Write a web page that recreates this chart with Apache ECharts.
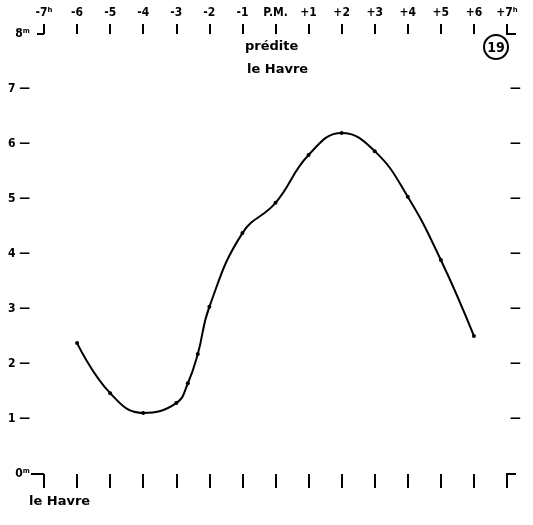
<!DOCTYPE html>
<html>
<head>
<meta charset="utf-8">
<script src="https://cdn.jsdelivr.net/npm/echarts@6/dist/echarts.min.js"></script>
<style>html,body{margin:0;padding:0;background:#fff}#c{width:533px;height:525px}</style>
</head>
<body>
<div id="c"></div>
<script>
// Hours relative to P.M. (predicted high water, Le Havre)
const hours   = [-6, -5, -4, -3, -2.65, -2.35, -2, -1, 0, 1, 2, 3, 4, 5, 6];
// Water height (m)
const heights = [2.38, 1.47, 1.11, 1.29, 1.65, 2.18, 3.04, 4.38, 4.93, 5.80, 6.20, 5.87, 5.04, 3.89, 2.51];
// Tick labels
const hourLabels   = ['-7ʰ','-6','-5','-4','-3','-2','-1','P.M.','+1','+2','+3','+4','+5','+6','+7ʰ'];
const heightLabels = ['0ᵐ','1','2','3','4','5','6','7','8ᵐ'];
// Frame corners: [hour, height, horizontal direction]
const corners = [[-7, 8, -1], [7, 8, 1], [-7, 0, -1], [7, 0, 1]];

const FONT = '"DejaVu Sans Condensed", "DejaVu Sans", sans-serif';
const FONT2 = '"DejaVu Sans", sans-serif';
const chart = echarts.init(document.getElementById('c'));

const pts = hours.map((h, i) => [h, heights[i]]);

chart.setOption({
  animation: false,
  backgroundColor: '#fff',
  grid: { left: 44, right: 26, top: 34, bottom: 51 },
  xAxis: [
    {
      type: 'value', min: -7, max: 7, interval: 1, position: 'top',
      axisLine: { show: false, onZero: false },
      axisTick: { show: true, inside: false, length: 10, lineStyle: { color: '#000', width: 2 } },
      axisLabel: {
        margin: 15, color: '#000', fontFamily: FONT, fontSize: 12, fontWeight: 'bold',
        formatter: v => hourLabels[Math.round(v) + 7]
      },
      splitLine: { show: false }
    },
    {
      type: 'value', min: -7, max: 7, interval: 1, position: 'bottom',
      axisLine: { show: false, onZero: false },
      axisTick: { show: true, inside: false, length: 14, lineStyle: { color: '#000', width: 2 } },
      axisLabel: { show: false },
      splitLine: { show: false }
    }
  ],
  yAxis: [
    {
      type: 'value', min: 0, max: 8, interval: 1, position: 'left',
      axisLine: { show: false, onZero: false }, axisTick: { show: false }, splitLine: { show: false },
      axisLabel: {
        margin: 14, color: '#000', fontFamily: FONT, fontSize: 12, fontWeight: 'bold',
        formatter: v => {
          const i = Math.round(v);
          return (i === 0 || i === 8) ? heightLabels[i] : heightLabels[i] + ' —';
        }
      }
    },
    {
      type: 'value', min: 0, max: 8, interval: 1, position: 'right',
      axisLine: { show: false, onZero: false }, axisTick: { show: false }, splitLine: { show: false },
      axisLabel: {
        margin: 3, color: '#000', fontFamily: FONT, fontSize: 12, fontWeight: 'bold',
        formatter: v => { const i = Math.round(v); return (i === 0 || i === 8) ? '' : '—'; }
      }
    }
  ],
  series: [
    {
      type: 'line', xAxisIndex: 0, yAxisIndex: 0, data: pts, smooth: 0.45,
      symbol: 'circle', symbolSize: 4, showSymbol: true,
      lineStyle: { color: '#000', width: 2 }, itemStyle: { color: '#000' },
      clip: false
    },
    {
      type: 'custom', xAxisIndex: 0, yAxisIndex: 0, data: corners, clip: false, silent: true,
      renderItem: (params, api) => {
        const p = api.coord([api.value(0), api.value(1)]);
        const dir = api.value(2);
        const len = dir < 0 ? (api.value(1) > 0 ? 7 : 13) : (api.value(1) > 0 ? 9 : 9);
        return {
          type: 'line',
          shape: { x1: p[0] - (dir < 0 ? 0 : 1), y1: p[1], x2: p[0] + dir * len, y2: p[1] },
          style: { stroke: '#000', lineWidth: 2 }
        };
      }
    }
  ],
  graphic: [
    { type: 'text', left: 245, top: 40, style: { text: 'prédite', font: 'bold 13px ' + FONT2, fill: '#000' } },
    { type: 'text', left: 247, top: 63, style: { text: 'le Havre', font: 'bold 13px ' + FONT2, fill: '#000' } },
    { type: 'text', left: 29, top: 495, style: { text: 'le Havre', font: 'bold 13px ' + FONT2, fill: '#000' } },
    { type: 'circle', shape: { cx: 496, cy: 47, r: 12 }, style: { fill: '#fff', stroke: '#000', lineWidth: 2 } },
    { type: 'text', x: 496, y: 48, style: { text: '19', font: 'bold 14px ' + FONT, fill: '#000', align: 'center', verticalAlign: 'middle', textAlign: 'center', textVerticalAlign: 'middle' } }
  ]
});
</script>
</body>
</html>
